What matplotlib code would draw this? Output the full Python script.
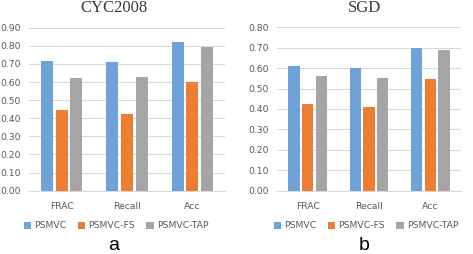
import matplotlib
matplotlib.use("Agg")
import matplotlib.pyplot as plt
import numpy as np

categories = ["FRAC", "Recall", "Acc"]
series_names = ["PSMVC", "PSMVC-FS", "PSMVC-TAP"]
colors = ["#6FA3D8", "#ED7D31", "#A5A5A5"]

cyc_psmvc = [0.715, 0.71, 0.82]
cyc_fs = [0.444, 0.424, 0.602]
cyc_tap = [0.623, 0.628, 0.792]

sgd_psmvc = [0.609, 0.599, 0.70]
sgd_fs = [0.423, 0.41, 0.547]
sgd_tap = [0.56, 0.552, 0.687]

cyc_ticks = [0.0, 0.1, 0.2, 0.3, 0.4, 0.5, 0.6, 0.7, 0.8, 0.9]
sgd_ticks = [0.0, 0.1, 0.2, 0.3, 0.4, 0.5, 0.6, 0.7, 0.8]

W, H = 473, 254
fig = plt.figure(figsize=(W / 100, H / 100), dpi=100)

def fx(px):
    return px / W

def fy(py):
    return 1 - py / H

panels = [
    dict(rect=(29, 27.7, 225, 190.7), title="CYC2008", data=[cyc_psmvc, cyc_fs, cyc_tap],
         ticks=cyc_ticks, label="a", cx=114),
    dict(rect=(277, 27.3, 461, 190.7), title="SGD", data=[sgd_psmvc, sgd_fs, sgd_tap],
         ticks=sgd_ticks, label="b", cx=364),
]

text_color = "#595959"
grid_color = "#D9D9D9"
x = np.arange(len(categories))
bw = 0.184
step = 0.225

for p in panels:
    x0, y0, x1, y1 = p["rect"]
    ax = fig.add_axes([fx(x0), fy(y1), fx(x1) - fx(x0), (y1 - y0) / H])
    for i, (vals, c) in enumerate(zip(p["data"], colors)):
        ax.bar(x + (i - 1) * step, vals, width=bw, color=c, label=series_names[i], zorder=3)
    ax.set_xlim(-0.5, len(categories) - 0.5)
    ax.set_ylim(p["ticks"][0], p["ticks"][-1])
    ax.set_yticks(p["ticks"])
    ax.set_yticklabels([f"{t:.2f}" for t in p["ticks"]])
    ax.set_xticks(x)
    ax.set_xticklabels(categories)
    ax.tick_params(axis="both", length=0, labelsize=6.7, labelcolor=text_color)
    ax.tick_params(axis="x", pad=8)
    ax.tick_params(axis="y", pad=6)
    ax.grid(axis="y", color=grid_color, linewidth=0.8, zorder=0)
    for s in ["top", "right", "left"]:
        ax.spines[s].set_visible(False)
    ax.spines["bottom"].set_color(grid_color)
    ax.spines["bottom"].set_linewidth(0.8)
    fig.text(fx(p["cx"]), fy(8), p["title"], ha="center", va="center",
             fontsize=12, family="Liberation Serif", color="#3A3A3A")
    handles, labels = ax.get_legend_handles_labels()
    fig.legend(handles, labels, loc="center", bbox_to_anchor=(fx(p["cx"] + 2), fy(226)),
               ncol=3, frameon=False, fontsize=6.7, handlelength=0.8, handleheight=0.8,
               handletextpad=0.35, columnspacing=1.2, labelcolor=text_color)
    fig.text(fx(p["cx"]), fy(250), p["label"], ha="center", va="baseline",
             fontsize=14, family="Liberation Sans", color="#000000")

fig.savefig("out.png", dpi=100)
